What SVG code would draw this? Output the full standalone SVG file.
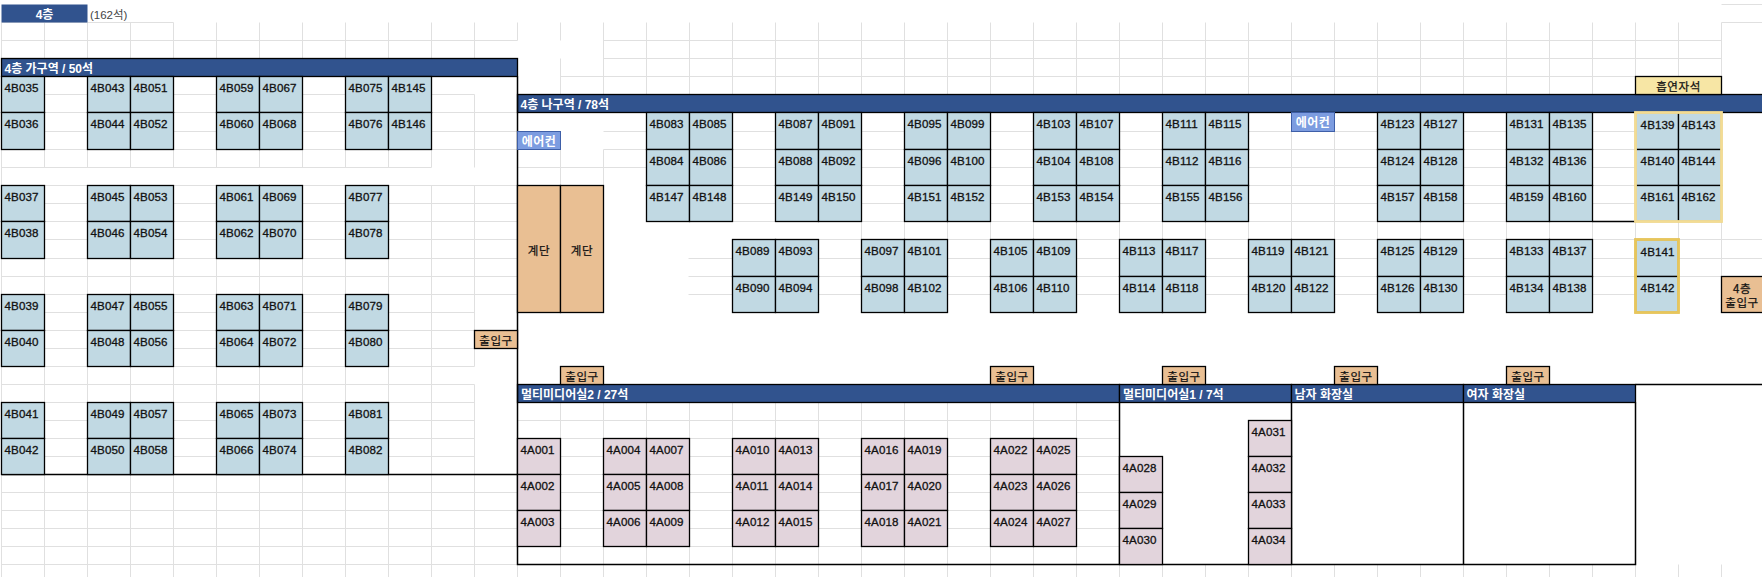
<svg xmlns="http://www.w3.org/2000/svg" width="1762" height="577" viewBox="0 0 1762 577">
<style>
.g{stroke:#e0e0e0;stroke-width:1;fill:none}
.b{width:43px;height:36px;fill:#c1d9e3;stroke:#000;stroke-width:1.3}
.p{width:43px;height:36px;fill:#e2d4dc;stroke:#000;stroke-width:1.3}
.h{height:37px}
.t{font:11.6px "Liberation Sans",sans-serif;fill:#111;stroke:#111;stroke-width:.3;letter-spacing:.1px}
.hd{fill:#31538e;stroke:#000;stroke-width:1.3}
.ht{font:bold 12px "Liberation Sans","Noto Sans CJK KR",sans-serif;fill:#fff}
.o{fill:#e9bf93;stroke:#000;stroke-width:1.3}
.ot{font:11.5px "Noto Sans CJK KR",sans-serif;fill:#111;stroke:#111;stroke-width:.25;text-anchor:middle;letter-spacing:.6px}
.w{stroke:#000;stroke-width:1.5;fill:none}
.ac{fill:#7c9ce0;stroke:#3e5fa8;stroke-width:1}
.at{font:bold 12px "Noto Sans CJK KR",sans-serif;fill:#fff;text-anchor:middle;letter-spacing:.5px}
</style>
<rect width="1762" height="577" fill="#fff"/>
<path id="grid" class="g" d="M1.5 22.5H173.5M1.5 40.5H517.5M603.5 40.5H1721.5M603.5 58.5H1721.5M560.5 76.5H1635.5M1721.5 4.5H1762M1721.5 22.5H1762
M1.5 94.5H474.5M1.5 112.5H517.5M1.5 131.5H517.5M1.5 149.5H517.5M1.5 167.5H431.5M517.5 167.5H646.5M603.5 131.5H1635.5M603.5 149.5H1635.5M517.5 167.5H1635.5M1.5 185.5H517.5M732.5 185.5H1635.5M732.5 203.5H1635.5M732.5 221.5H1721.5
M818.5 239.5H1762M688.5 258.5H1721.5M688.5 276.5H1721.5M688.5 294.5H1679M1679 258.5H1762
M1.5 203.5H517.5M1.5 221.5H517.5M1.5 239.5H517.5M1.5 258.5H517.5M1.5 276.5H517.5M1.5 294.5H517.5M1.5 312.5H474.5M1.5 330.5H474.5M1.5 348.5H474.5M1.5 366.5H474.5M1.5 384.5H474.5M1.5 402.5H474.5M1.5 420.5H474.5M1.5 438.5H474.5M1.5 456.5H474.5
M1.5 492.5H517.5M1.5 510.5H517.5M1.5 528.5H517.5M1.5 546.5H517.5M1.5 564.5H517.5
M517.5 420.5H1119.5M517.5 438.5H1119.5M517.5 456.5H1119.5M517.5 474.5H1119.5M517.5 492.5H1119.5M517.5 510.5H1119.5M517.5 528.5H1119.5M517.5 546.5H1119.5
M1.5 22.5V577M44.5 22.5V167.5M44.5 185.5V577M87.5 22.5V167.5M87.5 185.5V577M130.5 22.5V167.5M130.5 185.5V577M173.5 22.5V167.5M173.5 185.5V577M216.5 22.5V167.5M216.5 185.5V577M259.5 22.5V167.5M259.5 185.5V577M302.5 22.5V167.5M302.5 185.5V577M345.5 22.5V167.5M345.5 185.5V577M388.5 22.5V167.5M388.5 185.5V577M431.5 22.5V167.5M431.5 185.5V577M474.5 22.5V58.5M474.5 94.5V167.5M474.5 185.5V330.5M474.5 348.5V366.5M474.5 384.5V577
M517.5 22.5V40.5M517.5 564.5V577M560.5 22.5V40.5M560.5 58.5V94.5M560.5 131.5V185.5M603.5 22.5V94.5M603.5 149.5V185.5
M646.5 22.5V94.5M689.5 22.5V94.5M732.5 22.5V94.5M775.5 22.5V94.5M818.5 22.5V94.5M861.5 22.5V94.5M904.5 22.5V94.5M947.5 22.5V94.5M990.5 22.5V94.5M1033.5 22.5V94.5M1076.5 22.5V94.5M1119.5 22.5V94.5M1162.5 22.5V94.5M1205.5 22.5V94.5M1248.5 22.5V94.5M1291.5 22.5V94.5M1334.5 22.5V94.5M1377.5 22.5V94.5M1420.5 22.5V94.5M1463.5 22.5V94.5M1506.5 22.5V94.5M1549.5 22.5V94.5M1592.5 22.5V94.5M1635.5 22.5V94.5M1678.5 22.5V94.5M1721.5 22.5V94.5
M1291.5 131.5V239.5M1334.5 131.5V239.5M861.5 221.5V239.5M904.5 221.5V239.5M947.5 221.5V239.5M990.5 221.5V239.5M1033.5 221.5V239.5M1076.5 221.5V239.5M1119.5 221.5V239.5M1162.5 221.5V239.5M1205.5 221.5V239.5M1248.5 221.5V239.5M1377.5 221.5V239.5M1420.5 221.5V239.5M1463.5 221.5V239.5M1506.5 221.5V239.5M1549.5 221.5V239.5M1592.5 221.5V239.5M1635.5 221.5V239.5M1678.5 221.5V239.5M1721.5 221.5V276.5
M560.5 402.5V577M603.5 402.5V577M646.5 402.5V577M689.5 402.5V577M732.5 402.5V577M775.5 402.5V577M818.5 402.5V577M861.5 402.5V577M904.5 402.5V577M947.5 402.5V577M990.5 402.5V577M1033.5 402.5V577M1076.5 402.5V577M1119.5 402.5V577
M1162.5 564.5V577M1205.5 564.5V577M1248.5 564.5V577M1291.5 564.5V577M1334.5 564.5V577M1377.5 564.5V577M1420.5 564.5V577M1463.5 564.5V577M1506.5 564.5V577M1549.5 564.5V577M1592.5 564.5V577M1635.5 564.5V577M1678.5 564.5V577M1721.5 564.5V577"/>

<g id="title"><rect x="1.5" y="4.5" width="86" height="18" fill="#31538e"/><text class="ht" x="44.5" y="19" text-anchor="middle">4층</text><text x="90" y="19" style="font:11.5px 'Liberation Sans','Noto Sans CJK KR',sans-serif;fill:#444">(162석)</text></g>

<g id="headers">
<g id="zone-a"><rect class="hd" x="1.5" y="58.5" width="516" height="18"/><text class="ht" x="4.5" y="73">4층 가구역 / 50석</text></g>
<g id="zone-b"><rect class="hd" x="517.5" y="94.5" width="1246" height="18"/><text class="ht" x="520.5" y="109.3">4층 나구역 / 78석</text></g>
<g id="mm2"><rect class="hd" x="517.5" y="384.5" width="602" height="18"/><text class="ht" x="521" y="399.3">멀티미디어실2 / 27석</text></g>
<g id="mm1"><rect class="hd" x="1119.5" y="384.5" width="172" height="18"/><text class="ht" x="1123" y="399.3">멀티미디어실1 / 7석</text></g>
<g id="men"><rect class="hd" x="1291.5" y="384.5" width="172" height="18"/><text class="ht" x="1294.5" y="399.3">남자 화장실</text></g>
<g id="women"><rect class="hd" x="1463.5" y="384.5" width="172" height="18"/><text class="ht" x="1466.5" y="399.3">여자 화장실</text></g>
</g>

<g id="connectors">
<path class="w" d="M517.5 76.5V564.5H1635.5V402.5M1.5 474.5H517.5M1119.5 402.5V564.5M1291.5 402.5V564.5M1463.5 402.5V564.5M1635.5 384.5H1762M1592.5 221.5H1635.5"/>
</g>

<g id="seats-a">
<g id="s4B035"><rect class="b" x="1.5" y="76.5"/><text class="t" x="4.5" y="91.5">4B035</text></g>
<g id="s4B036"><rect class="b h" x="1.5" y="112.5"/><text class="t" x="4.5" y="127.5">4B036</text></g>
<g id="s4B037"><rect class="b" x="1.5" y="185.5"/><text class="t" x="4.5" y="200.5">4B037</text></g>
<g id="s4B038"><rect class="b h" x="1.5" y="221.5"/><text class="t" x="4.5" y="236.5">4B038</text></g>
<g id="s4B039"><rect class="b" x="1.5" y="294.5"/><text class="t" x="4.5" y="309.5">4B039</text></g>
<g id="s4B040"><rect class="b" x="1.5" y="330.5"/><text class="t" x="4.5" y="345.5">4B040</text></g>
<g id="s4B041"><rect class="b" x="1.5" y="402.5"/><text class="t" x="4.5" y="417.5">4B041</text></g>
<g id="s4B042"><rect class="b" x="1.5" y="438.5"/><text class="t" x="4.5" y="453.5">4B042</text></g>
<g id="s4B043"><rect class="b" x="87.5" y="76.5"/><text class="t" x="90.5" y="91.5">4B043</text></g>
<g id="s4B044"><rect class="b h" x="87.5" y="112.5"/><text class="t" x="90.5" y="127.5">4B044</text></g>
<g id="s4B045"><rect class="b" x="87.5" y="185.5"/><text class="t" x="90.5" y="200.5">4B045</text></g>
<g id="s4B046"><rect class="b h" x="87.5" y="221.5"/><text class="t" x="90.5" y="236.5">4B046</text></g>
<g id="s4B047"><rect class="b" x="87.5" y="294.5"/><text class="t" x="90.5" y="309.5">4B047</text></g>
<g id="s4B048"><rect class="b" x="87.5" y="330.5"/><text class="t" x="90.5" y="345.5">4B048</text></g>
<g id="s4B049"><rect class="b" x="87.5" y="402.5"/><text class="t" x="90.5" y="417.5">4B049</text></g>
<g id="s4B050"><rect class="b" x="87.5" y="438.5"/><text class="t" x="90.5" y="453.5">4B050</text></g>
<g id="s4B051"><rect class="b" x="130.5" y="76.5"/><text class="t" x="133.5" y="91.5">4B051</text></g>
<g id="s4B052"><rect class="b h" x="130.5" y="112.5"/><text class="t" x="133.5" y="127.5">4B052</text></g>
<g id="s4B053"><rect class="b" x="130.5" y="185.5"/><text class="t" x="133.5" y="200.5">4B053</text></g>
<g id="s4B054"><rect class="b h" x="130.5" y="221.5"/><text class="t" x="133.5" y="236.5">4B054</text></g>
<g id="s4B055"><rect class="b" x="130.5" y="294.5"/><text class="t" x="133.5" y="309.5">4B055</text></g>
<g id="s4B056"><rect class="b" x="130.5" y="330.5"/><text class="t" x="133.5" y="345.5">4B056</text></g>
<g id="s4B057"><rect class="b" x="130.5" y="402.5"/><text class="t" x="133.5" y="417.5">4B057</text></g>
<g id="s4B058"><rect class="b" x="130.5" y="438.5"/><text class="t" x="133.5" y="453.5">4B058</text></g>
<g id="s4B059"><rect class="b" x="216.5" y="76.5"/><text class="t" x="219.5" y="91.5">4B059</text></g>
<g id="s4B060"><rect class="b h" x="216.5" y="112.5"/><text class="t" x="219.5" y="127.5">4B060</text></g>
<g id="s4B061"><rect class="b" x="216.5" y="185.5"/><text class="t" x="219.5" y="200.5">4B061</text></g>
<g id="s4B062"><rect class="b h" x="216.5" y="221.5"/><text class="t" x="219.5" y="236.5">4B062</text></g>
<g id="s4B063"><rect class="b" x="216.5" y="294.5"/><text class="t" x="219.5" y="309.5">4B063</text></g>
<g id="s4B064"><rect class="b" x="216.5" y="330.5"/><text class="t" x="219.5" y="345.5">4B064</text></g>
<g id="s4B065"><rect class="b" x="216.5" y="402.5"/><text class="t" x="219.5" y="417.5">4B065</text></g>
<g id="s4B066"><rect class="b" x="216.5" y="438.5"/><text class="t" x="219.5" y="453.5">4B066</text></g>
<g id="s4B067"><rect class="b" x="259.5" y="76.5"/><text class="t" x="262.5" y="91.5">4B067</text></g>
<g id="s4B068"><rect class="b h" x="259.5" y="112.5"/><text class="t" x="262.5" y="127.5">4B068</text></g>
<g id="s4B069"><rect class="b" x="259.5" y="185.5"/><text class="t" x="262.5" y="200.5">4B069</text></g>
<g id="s4B070"><rect class="b h" x="259.5" y="221.5"/><text class="t" x="262.5" y="236.5">4B070</text></g>
<g id="s4B071"><rect class="b" x="259.5" y="294.5"/><text class="t" x="262.5" y="309.5">4B071</text></g>
<g id="s4B072"><rect class="b" x="259.5" y="330.5"/><text class="t" x="262.5" y="345.5">4B072</text></g>
<g id="s4B073"><rect class="b" x="259.5" y="402.5"/><text class="t" x="262.5" y="417.5">4B073</text></g>
<g id="s4B074"><rect class="b" x="259.5" y="438.5"/><text class="t" x="262.5" y="453.5">4B074</text></g>
<g id="s4B075"><rect class="b" x="345.5" y="76.5"/><text class="t" x="348.5" y="91.5">4B075</text></g>
<g id="s4B076"><rect class="b h" x="345.5" y="112.5"/><text class="t" x="348.5" y="127.5">4B076</text></g>
<g id="s4B077"><rect class="b" x="345.5" y="185.5"/><text class="t" x="348.5" y="200.5">4B077</text></g>
<g id="s4B078"><rect class="b h" x="345.5" y="221.5"/><text class="t" x="348.5" y="236.5">4B078</text></g>
<g id="s4B079"><rect class="b" x="345.5" y="294.5"/><text class="t" x="348.5" y="309.5">4B079</text></g>
<g id="s4B080"><rect class="b" x="345.5" y="330.5"/><text class="t" x="348.5" y="345.5">4B080</text></g>
<g id="s4B081"><rect class="b" x="345.5" y="402.5"/><text class="t" x="348.5" y="417.5">4B081</text></g>
<g id="s4B082"><rect class="b" x="345.5" y="438.5"/><text class="t" x="348.5" y="453.5">4B082</text></g>
<g id="s4B145"><rect class="b" x="388.5" y="76.5"/><text class="t" x="391.5" y="91.5">4B145</text></g>
<g id="s4B146"><rect class="b h" x="388.5" y="112.5"/><text class="t" x="391.5" y="127.5">4B146</text></g>
</g>

<g id="seats-b">
<g id="s4B083"><rect class="b h" x="646.5" y="112.5"/><text class="t" x="649.5" y="127.5">4B083</text></g>
<g id="s4B084"><rect class="b" x="646.5" y="149.5"/><text class="t" x="649.5" y="164.5">4B084</text></g>
<g id="s4B147"><rect class="b" x="646.5" y="185.5"/><text class="t" x="649.5" y="200.5">4B147</text></g>
<g id="s4B085"><rect class="b h" x="689.5" y="112.5"/><text class="t" x="692.5" y="127.5">4B085</text></g>
<g id="s4B086"><rect class="b" x="689.5" y="149.5"/><text class="t" x="692.5" y="164.5">4B086</text></g>
<g id="s4B148"><rect class="b" x="689.5" y="185.5"/><text class="t" x="692.5" y="200.5">4B148</text></g>
<g id="s4B087"><rect class="b h" x="775.5" y="112.5"/><text class="t" x="778.5" y="127.5">4B087</text></g>
<g id="s4B088"><rect class="b" x="775.5" y="149.5"/><text class="t" x="778.5" y="164.5">4B088</text></g>
<g id="s4B149"><rect class="b" x="775.5" y="185.5"/><text class="t" x="778.5" y="200.5">4B149</text></g>
<g id="s4B091"><rect class="b h" x="818.5" y="112.5"/><text class="t" x="821.5" y="127.5">4B091</text></g>
<g id="s4B092"><rect class="b" x="818.5" y="149.5"/><text class="t" x="821.5" y="164.5">4B092</text></g>
<g id="s4B150"><rect class="b" x="818.5" y="185.5"/><text class="t" x="821.5" y="200.5">4B150</text></g>
<g id="s4B095"><rect class="b h" x="904.5" y="112.5"/><text class="t" x="907.5" y="127.5">4B095</text></g>
<g id="s4B096"><rect class="b" x="904.5" y="149.5"/><text class="t" x="907.5" y="164.5">4B096</text></g>
<g id="s4B151"><rect class="b" x="904.5" y="185.5"/><text class="t" x="907.5" y="200.5">4B151</text></g>
<g id="s4B099"><rect class="b h" x="947.5" y="112.5"/><text class="t" x="950.5" y="127.5">4B099</text></g>
<g id="s4B100"><rect class="b" x="947.5" y="149.5"/><text class="t" x="950.5" y="164.5">4B100</text></g>
<g id="s4B152"><rect class="b" x="947.5" y="185.5"/><text class="t" x="950.5" y="200.5">4B152</text></g>
<g id="s4B103"><rect class="b h" x="1033.5" y="112.5"/><text class="t" x="1036.5" y="127.5">4B103</text></g>
<g id="s4B104"><rect class="b" x="1033.5" y="149.5"/><text class="t" x="1036.5" y="164.5">4B104</text></g>
<g id="s4B153"><rect class="b" x="1033.5" y="185.5"/><text class="t" x="1036.5" y="200.5">4B153</text></g>
<g id="s4B107"><rect class="b h" x="1076.5" y="112.5"/><text class="t" x="1079.5" y="127.5">4B107</text></g>
<g id="s4B108"><rect class="b" x="1076.5" y="149.5"/><text class="t" x="1079.5" y="164.5">4B108</text></g>
<g id="s4B154"><rect class="b" x="1076.5" y="185.5"/><text class="t" x="1079.5" y="200.5">4B154</text></g>
<g id="s4B111"><rect class="b h" x="1162.5" y="112.5"/><text class="t" x="1165.5" y="127.5">4B111</text></g>
<g id="s4B112"><rect class="b" x="1162.5" y="149.5"/><text class="t" x="1165.5" y="164.5">4B112</text></g>
<g id="s4B155"><rect class="b" x="1162.5" y="185.5"/><text class="t" x="1165.5" y="200.5">4B155</text></g>
<g id="s4B115"><rect class="b h" x="1205.5" y="112.5"/><text class="t" x="1208.5" y="127.5">4B115</text></g>
<g id="s4B116"><rect class="b" x="1205.5" y="149.5"/><text class="t" x="1208.5" y="164.5">4B116</text></g>
<g id="s4B156"><rect class="b" x="1205.5" y="185.5"/><text class="t" x="1208.5" y="200.5">4B156</text></g>
<g id="s4B123"><rect class="b h" x="1377.5" y="112.5"/><text class="t" x="1380.5" y="127.5">4B123</text></g>
<g id="s4B124"><rect class="b" x="1377.5" y="149.5"/><text class="t" x="1380.5" y="164.5">4B124</text></g>
<g id="s4B157"><rect class="b" x="1377.5" y="185.5"/><text class="t" x="1380.5" y="200.5">4B157</text></g>
<g id="s4B127"><rect class="b h" x="1420.5" y="112.5"/><text class="t" x="1423.5" y="127.5">4B127</text></g>
<g id="s4B128"><rect class="b" x="1420.5" y="149.5"/><text class="t" x="1423.5" y="164.5">4B128</text></g>
<g id="s4B158"><rect class="b" x="1420.5" y="185.5"/><text class="t" x="1423.5" y="200.5">4B158</text></g>
<g id="s4B131"><rect class="b h" x="1506.5" y="112.5"/><text class="t" x="1509.5" y="127.5">4B131</text></g>
<g id="s4B132"><rect class="b" x="1506.5" y="149.5"/><text class="t" x="1509.5" y="164.5">4B132</text></g>
<g id="s4B159"><rect class="b" x="1506.5" y="185.5"/><text class="t" x="1509.5" y="200.5">4B159</text></g>
<g id="s4B135"><rect class="b h" x="1549.5" y="112.5"/><text class="t" x="1552.5" y="127.5">4B135</text></g>
<g id="s4B136"><rect class="b" x="1549.5" y="149.5"/><text class="t" x="1552.5" y="164.5">4B136</text></g>
<g id="s4B160"><rect class="b" x="1549.5" y="185.5"/><text class="t" x="1552.5" y="200.5">4B160</text></g>
<g id="s4B139"><rect class="b h" x="1635.5" y="112.5"/><text class="t" x="1640.6" y="128.5">4B139</text></g>
<g id="s4B140"><rect class="b" x="1635.5" y="149.5"/><text class="t" x="1640.6" y="164.5">4B140</text></g>
<g id="s4B161"><rect class="b" x="1635.5" y="185.5"/><text class="t" x="1640.6" y="200.5">4B161</text></g>
<g id="s4B143"><rect class="b h" x="1678.5" y="112.5"/><text class="t" x="1681.5" y="128.5">4B143</text></g>
<g id="s4B144"><rect class="b" x="1678.5" y="149.5"/><text class="t" x="1681.5" y="164.5">4B144</text></g>
<g id="s4B162"><rect class="b" x="1678.5" y="185.5"/><text class="t" x="1681.5" y="200.5">4B162</text></g>
<g id="s4B089"><rect class="b h" x="732.5" y="239.5"/><text class="t" x="735.5" y="254.5">4B089</text></g>
<g id="s4B090"><rect class="b" x="732.5" y="276.5"/><text class="t" x="735.5" y="291.5">4B090</text></g>
<g id="s4B093"><rect class="b h" x="775.5" y="239.5"/><text class="t" x="778.5" y="254.5">4B093</text></g>
<g id="s4B094"><rect class="b" x="775.5" y="276.5"/><text class="t" x="778.5" y="291.5">4B094</text></g>
<g id="s4B097"><rect class="b h" x="861.5" y="239.5"/><text class="t" x="864.5" y="254.5">4B097</text></g>
<g id="s4B098"><rect class="b" x="861.5" y="276.5"/><text class="t" x="864.5" y="291.5">4B098</text></g>
<g id="s4B101"><rect class="b h" x="904.5" y="239.5"/><text class="t" x="907.5" y="254.5">4B101</text></g>
<g id="s4B102"><rect class="b" x="904.5" y="276.5"/><text class="t" x="907.5" y="291.5">4B102</text></g>
<g id="s4B105"><rect class="b h" x="990.5" y="239.5"/><text class="t" x="993.5" y="254.5">4B105</text></g>
<g id="s4B106"><rect class="b" x="990.5" y="276.5"/><text class="t" x="993.5" y="291.5">4B106</text></g>
<g id="s4B109"><rect class="b h" x="1033.5" y="239.5"/><text class="t" x="1036.5" y="254.5">4B109</text></g>
<g id="s4B110"><rect class="b" x="1033.5" y="276.5"/><text class="t" x="1036.5" y="291.5">4B110</text></g>
<g id="s4B113"><rect class="b h" x="1119.5" y="239.5"/><text class="t" x="1122.5" y="254.5">4B113</text></g>
<g id="s4B114"><rect class="b" x="1119.5" y="276.5"/><text class="t" x="1122.5" y="291.5">4B114</text></g>
<g id="s4B117"><rect class="b h" x="1162.5" y="239.5"/><text class="t" x="1165.5" y="254.5">4B117</text></g>
<g id="s4B118"><rect class="b" x="1162.5" y="276.5"/><text class="t" x="1165.5" y="291.5">4B118</text></g>
<g id="s4B119"><rect class="b h" x="1248.5" y="239.5"/><text class="t" x="1251.5" y="254.5">4B119</text></g>
<g id="s4B120"><rect class="b" x="1248.5" y="276.5"/><text class="t" x="1251.5" y="291.5">4B120</text></g>
<g id="s4B121"><rect class="b h" x="1291.5" y="239.5"/><text class="t" x="1294.5" y="254.5">4B121</text></g>
<g id="s4B122"><rect class="b" x="1291.5" y="276.5"/><text class="t" x="1294.5" y="291.5">4B122</text></g>
<g id="s4B125"><rect class="b h" x="1377.5" y="239.5"/><text class="t" x="1380.5" y="254.5">4B125</text></g>
<g id="s4B126"><rect class="b" x="1377.5" y="276.5"/><text class="t" x="1380.5" y="291.5">4B126</text></g>
<g id="s4B129"><rect class="b h" x="1420.5" y="239.5"/><text class="t" x="1423.5" y="254.5">4B129</text></g>
<g id="s4B130"><rect class="b" x="1420.5" y="276.5"/><text class="t" x="1423.5" y="291.5">4B130</text></g>
<g id="s4B133"><rect class="b h" x="1506.5" y="239.5"/><text class="t" x="1509.5" y="254.5">4B133</text></g>
<g id="s4B134"><rect class="b" x="1506.5" y="276.5"/><text class="t" x="1509.5" y="291.5">4B134</text></g>
<g id="s4B137"><rect class="b h" x="1549.5" y="239.5"/><text class="t" x="1552.5" y="254.5">4B137</text></g>
<g id="s4B138"><rect class="b" x="1549.5" y="276.5"/><text class="t" x="1552.5" y="291.5">4B138</text></g>
<g id="s4B141"><rect class="b h" x="1635.5" y="239.5"/><text class="t" x="1640.6" y="255.5">4B141</text></g>
<g id="s4B142"><rect class="b" x="1635.5" y="276.5"/><text class="t" x="1640.6" y="291.5">4B142</text></g>
<rect id="smoke-frame-1" x="1635.5" y="112.5" width="86" height="109" fill="none" stroke="#f3dc93" stroke-width="2.8"/>
<rect id="smoke-frame-2" x="1635.5" y="239.5" width="43" height="73" fill="none" stroke="#e8c65a" stroke-width="2.8"/>
</g>

<g id="seats-mm">
<g id="s4A001"><rect class="p" x="517.5" y="438.5"/><text class="t" x="520.5" y="453.5">4A001</text></g>
<g id="s4A002"><rect class="p" x="517.5" y="474.5"/><text class="t" x="520.5" y="489.5">4A002</text></g>
<g id="s4A003"><rect class="p" x="517.5" y="510.5"/><text class="t" x="520.5" y="525.5">4A003</text></g>
<g id="s4A004"><rect class="p" x="603.5" y="438.5"/><text class="t" x="606.5" y="453.5">4A004</text></g>
<g id="s4A005"><rect class="p" x="603.5" y="474.5"/><text class="t" x="606.5" y="489.5">4A005</text></g>
<g id="s4A006"><rect class="p" x="603.5" y="510.5"/><text class="t" x="606.5" y="525.5">4A006</text></g>
<g id="s4A007"><rect class="p" x="646.5" y="438.5"/><text class="t" x="649.5" y="453.5">4A007</text></g>
<g id="s4A008"><rect class="p" x="646.5" y="474.5"/><text class="t" x="649.5" y="489.5">4A008</text></g>
<g id="s4A009"><rect class="p" x="646.5" y="510.5"/><text class="t" x="649.5" y="525.5">4A009</text></g>
<g id="s4A010"><rect class="p" x="732.5" y="438.5"/><text class="t" x="735.5" y="453.5">4A010</text></g>
<g id="s4A011"><rect class="p" x="732.5" y="474.5"/><text class="t" x="735.5" y="489.5">4A011</text></g>
<g id="s4A012"><rect class="p" x="732.5" y="510.5"/><text class="t" x="735.5" y="525.5">4A012</text></g>
<g id="s4A013"><rect class="p" x="775.5" y="438.5"/><text class="t" x="778.5" y="453.5">4A013</text></g>
<g id="s4A014"><rect class="p" x="775.5" y="474.5"/><text class="t" x="778.5" y="489.5">4A014</text></g>
<g id="s4A015"><rect class="p" x="775.5" y="510.5"/><text class="t" x="778.5" y="525.5">4A015</text></g>
<g id="s4A016"><rect class="p" x="861.5" y="438.5"/><text class="t" x="864.5" y="453.5">4A016</text></g>
<g id="s4A017"><rect class="p" x="861.5" y="474.5"/><text class="t" x="864.5" y="489.5">4A017</text></g>
<g id="s4A018"><rect class="p" x="861.5" y="510.5"/><text class="t" x="864.5" y="525.5">4A018</text></g>
<g id="s4A019"><rect class="p" x="904.5" y="438.5"/><text class="t" x="907.5" y="453.5">4A019</text></g>
<g id="s4A020"><rect class="p" x="904.5" y="474.5"/><text class="t" x="907.5" y="489.5">4A020</text></g>
<g id="s4A021"><rect class="p" x="904.5" y="510.5"/><text class="t" x="907.5" y="525.5">4A021</text></g>
<g id="s4A022"><rect class="p" x="990.5" y="438.5"/><text class="t" x="993.5" y="453.5">4A022</text></g>
<g id="s4A023"><rect class="p" x="990.5" y="474.5"/><text class="t" x="993.5" y="489.5">4A023</text></g>
<g id="s4A024"><rect class="p" x="990.5" y="510.5"/><text class="t" x="993.5" y="525.5">4A024</text></g>
<g id="s4A025"><rect class="p" x="1033.5" y="438.5"/><text class="t" x="1036.5" y="453.5">4A025</text></g>
<g id="s4A026"><rect class="p" x="1033.5" y="474.5"/><text class="t" x="1036.5" y="489.5">4A026</text></g>
<g id="s4A027"><rect class="p" x="1033.5" y="510.5"/><text class="t" x="1036.5" y="525.5">4A027</text></g>
<g id="s4A028"><rect class="p" x="1119.5" y="456.5"/><text class="t" x="1122.5" y="471.5">4A028</text></g>
<g id="s4A029"><rect class="p" x="1119.5" y="492.5"/><text class="t" x="1122.5" y="507.5">4A029</text></g>
<g id="s4A030"><rect class="p" x="1119.5" y="528.5"/><text class="t" x="1122.5" y="543.5">4A030</text></g>
<g id="s4A031"><rect class="p" x="1248.5" y="420.5"/><text class="t" x="1251.5" y="435.5">4A031</text></g>
<g id="s4A032"><rect class="p" x="1248.5" y="456.5"/><text class="t" x="1251.5" y="471.5">4A032</text></g>
<g id="s4A033"><rect class="p" x="1248.5" y="492.5"/><text class="t" x="1251.5" y="507.5">4A033</text></g>
<g id="s4A034"><rect class="p" x="1248.5" y="528.5"/><text class="t" x="1251.5" y="543.5">4A034</text></g>
</g>

<g id="facilities">
<g id="stair-1"><rect class="o" x="517.5" y="185.5" width="43" height="127"/><text class="ot" x="539" y="254.5">계단</text></g>
<g id="stair-2"><rect class="o" x="560.5" y="185.5" width="43" height="127"/><text class="ot" x="582" y="254.5">계단</text></g>
<g id="door-1"><rect class="o" x="474.5" y="330.5" width="43" height="18"/><text class="ot" x="496" y="344.5">출입구</text></g>
<g id="door-2"><rect class="o" x="560.5" y="366.5" width="43" height="18"/><text class="ot" x="582" y="380.5">출입구</text></g>
<g id="door-3"><rect class="o" x="990.5" y="366.5" width="43" height="18"/><text class="ot" x="1012" y="380.5">출입구</text></g>
<g id="door-4"><rect class="o" x="1162.5" y="366.5" width="43" height="18"/><text class="ot" x="1184" y="380.5">출입구</text></g>
<g id="door-5"><rect class="o" x="1334.5" y="366.5" width="43" height="18"/><text class="ot" x="1356" y="380.5">출입구</text></g>
<g id="door-6"><rect class="o" x="1506.5" y="366.5" width="43" height="18"/><text class="ot" x="1528" y="380.5">출입구</text></g>
<g id="door-main"><rect class="o" x="1721.5" y="276.5" width="42" height="36"/><text class="ot" x="1742" y="292.5">4층</text><text class="ot" x="1742" y="306.5">출입구</text></g>
<g id="smoking"><rect x="1635.5" y="76.5" width="86" height="18" fill="#f7e6a5" stroke="#000" stroke-width="1.3"/><text class="ot" x="1678.5" y="91">흡연자석</text></g>
<g id="ac-1"><rect class="ac" x="517.5" y="131.5" width="43" height="18"/><text class="at" x="539" y="145.5">에어컨</text></g>
<g id="ac-2"><rect class="ac" x="1291.5" y="112.5" width="43" height="19"/><text class="at" x="1313" y="126.7">에어컨</text></g>
</g>
</svg>
